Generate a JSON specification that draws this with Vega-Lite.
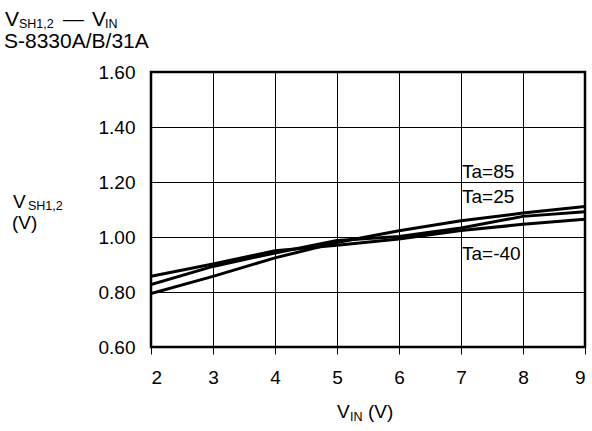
{
  "$schema": "https://vega.github.io/schema/vega-lite/v6.json",
  "width": 434,
  "height": 275,
  "autosize": {"type": "none"},
  "padding": {"left": 151, "top": 72, "right": 7, "bottom": 84},
  "background": "white",
  "config": {
    "font": "Liberation Sans",
    "view": {"stroke": "black", "strokeWidth": 2.5}
  },
  "datasets": {
    "curves": [
      {"vin": 2, "v": 0.794, "ta": "85"}, {"vin": 3, "v": 0.857, "ta": "85"}, {"vin": 4, "v": 0.924, "ta": "85"}, {"vin": 5, "v": 0.980, "ta": "85"}, {"vin": 6, "v": 1.023, "ta": "85"}, {"vin": 7, "v": 1.059, "ta": "85"}, {"vin": 8, "v": 1.087, "ta": "85"}, {"vin": 9, "v": 1.111, "ta": "85"},
      {"vin": 2, "v": 0.827, "ta": "25"}, {"vin": 3, "v": 0.893, "ta": "25"}, {"vin": 4, "v": 0.942, "ta": "25"}, {"vin": 5, "v": 0.987, "ta": "25"}, {"vin": 6, "v": 1.002, "ta": "25"}, {"vin": 7, "v": 1.033, "ta": "25"}, {"vin": 8, "v": 1.075, "ta": "25"}, {"vin": 9, "v": 1.092, "ta": "25"},
      {"vin": 2, "v": 0.857, "ta": "-40"}, {"vin": 3, "v": 0.902, "ta": "-40"}, {"vin": 4, "v": 0.950, "ta": "-40"}, {"vin": 5, "v": 0.970, "ta": "-40"}, {"vin": 6, "v": 0.993, "ta": "-40"}, {"vin": 7, "v": 1.024, "ta": "-40"}, {"vin": 8, "v": 1.046, "ta": "-40"}, {"vin": 9, "v": 1.065, "ta": "-40"}
    ],
    "labels": [
      {"x": 7.016, "y": 1.2145, "t": "Ta=85"},
      {"x": 7.016, "y": 1.1236, "t": "Ta=25"},
      {"x": 7.016, "y": 0.9164, "t": "Ta=-40"}
    ],
    "big": [
      {"x": -0.355, "y": 1.7673, "t": "V"},
      {"x": 0.581, "y": 1.7673, "t": "—"},
      {"x": 1.048, "y": 1.7673, "t": "V"},
      {"x": -0.371, "y": 1.6873, "t": "S-8330A/B/31A"}
    ],
    "axisbig": [
      {"x": -0.226, "y": 1.1055, "t": "V"},
      {"x": -0.242, "y": 1.0291, "t": "(V)"},
      {"x": 5.0, "y": 0.3418, "t": "V"},
      {"x": 5.5, "y": 0.3418, "t": "(V)"}
    ],
    "small": [
      {"x": -0.129, "y": 1.7618, "t": "SH1,2"},
      {"x": 1.258, "y": 1.7618, "t": "IN"},
      {"x": 0.016, "y": 1.0982, "t": "SH1,2"},
      {"x": 5.21, "y": 0.331, "t": "IN"}
    ]
  },
  "layer": [
    {
      "data": {"name": "curves"},
      "mark": {"type": "line", "strokeWidth": 3, "color": "black", "clip": true},
      "encoding": {
        "x": {
          "field": "vin", "type": "quantitative",
          "scale": {"domain": [2, 9], "nice": false, "zero": false},
          "axis": {
            "values": [2, 3, 4, 5, 6, 7, 8, 9], "format": "d", "title": null, "domain": false,
            "grid": true, "gridColor": "black", "gridOpacity": 1, "gridWidth": 1,
            "ticks": true, "tickColor": "black", "tickSize": 7, "tickWidth": 1,
            "labelFont": "Liberation Sans", "labelFontSize": 19, "labelColor": "black", "labelPadding": 14
          }
        },
        "y": {
          "field": "v", "type": "quantitative",
          "scale": {"domain": [0.6, 1.6], "nice": false, "zero": false},
          "axis": {
            "values": [0.6, 0.8, 1.0, 1.2, 1.4, 1.6], "format": ".2f", "title": null, "domain": false,
            "grid": true, "gridColor": "black", "gridOpacity": 1, "gridWidth": 1,
            "ticks": false,
            "labelFont": "Liberation Sans", "labelFontSize": 19, "labelColor": "black", "labelPadding": 16
          }
        },
        "detail": {"field": "ta"}
      }
    },
    {
      "data": {"name": "labels"},
      "mark": {"type": "text", "align": "left", "baseline": "alphabetic", "fontSize": 19, "color": "black"},
      "encoding": {
        "x": {"field": "x", "type": "quantitative"},
        "y": {"field": "y", "type": "quantitative"},
        "text": {"field": "t"}
      }
    },
    {
      "data": {"name": "big"},
      "mark": {"type": "text", "align": "left", "baseline": "alphabetic", "fontSize": 21, "color": "black", "clip": false},
      "encoding": {
        "x": {"field": "x", "type": "quantitative"},
        "y": {"field": "y", "type": "quantitative"},
        "text": {"field": "t"}
      }
    },
    {
      "data": {"name": "axisbig"},
      "mark": {"type": "text", "align": "left", "baseline": "alphabetic", "fontSize": 19, "color": "black", "clip": false},
      "encoding": {
        "x": {"field": "x", "type": "quantitative"},
        "y": {"field": "y", "type": "quantitative"},
        "text": {"field": "t"}
      }
    },
    {
      "data": {"name": "small"},
      "mark": {"type": "text", "align": "left", "baseline": "alphabetic", "fontSize": 12.5, "color": "black", "clip": false},
      "encoding": {
        "x": {"field": "x", "type": "quantitative"},
        "y": {"field": "y", "type": "quantitative"},
        "text": {"field": "t"}
      }
    }
  ]
}
